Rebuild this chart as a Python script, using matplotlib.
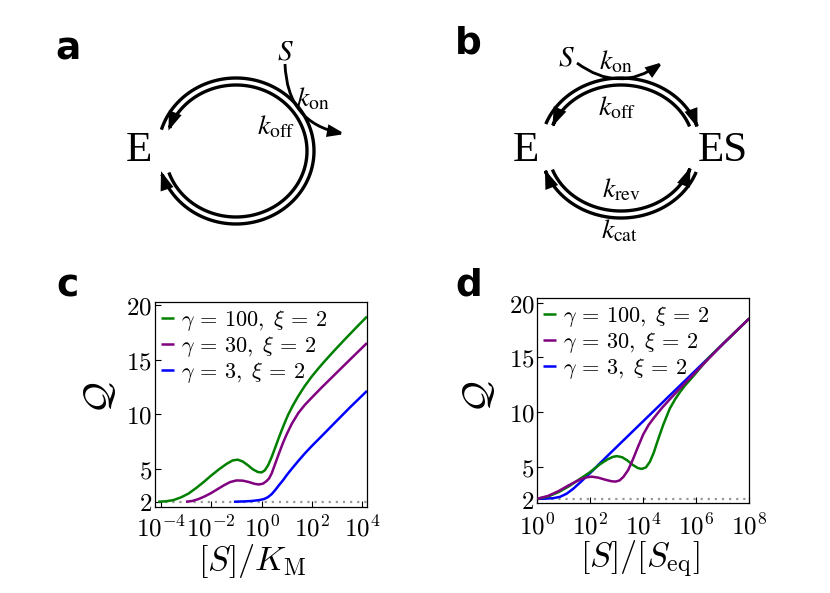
import numpy as np
import matplotlib
matplotlib.use("Agg")
import matplotlib.pyplot as plt
from matplotlib.patches import FancyArrowPatch
from matplotlib.path import Path
from matplotlib.ticker import FixedLocator, FuncFormatter, NullLocator

plt.rcParams['mathtext.fontset'] = 'cm'
plt.rcParams['font.family'] = ['DejaVu Sans']

# ---------------- data ----------------
series_labels = [r'$\gamma\,=\,100,\ \xi\,=\,2$', r'$\gamma\,=\,30,\ \xi\,=\,2$', r'$\gamma\,=\,3,\ \xi\,=\,2$']

# panel c : log10([S]/K_M) and Q
c_logx_g100 = [-4.1, -3.8, -3.5, -3.2, -2.9, -2.6, -2.3, -2.0, -1.7, -1.4, -1.15, -0.95, -0.75, -0.55,
               -0.35, -0.15, 0.0, 0.13, 0.27, 0.4, 0.53, 0.66, 0.79, 0.92, 1.05, 1.25, 1.45, 1.7, 1.98,
               2.25, 2.51, 2.9, 3.3, 3.7, 4.18]
c_Q_g100 = [2.0, 2.04, 2.15, 2.4, 2.75, 3.25, 3.8, 4.4, 4.95, 5.45, 5.78, 5.85, 5.68, 5.35,
            4.97, 4.72, 4.68, 4.88, 5.4, 6.1, 6.9, 7.72, 8.5, 9.25, 9.95, 10.85, 11.65, 12.55, 13.43,
            14.19, 14.88, 15.87, 16.85, 17.81, 18.94]
c_logx_g30 = [-3.0, -2.75, -2.5, -2.25, -2.0, -1.75, -1.5, -1.25, -1.0, -0.75, -0.5, -0.3, -0.12,
              0.05, 0.2, 0.3, 0.4, 0.55, 0.7, 0.85, 1.0, 1.19, 1.45, 1.71, 2.0, 2.38, 2.9, 3.5, 4.18]
c_Q_g30 = [2.0, 2.07, 2.25, 2.5, 2.8, 3.15, 3.5, 3.8, 3.95, 3.93, 3.8, 3.65, 3.58,
           3.65, 3.9, 4.15, 4.6, 5.55, 6.5, 7.4, 8.2, 9.1, 10.1, 10.85, 11.55, 12.45, 13.63, 14.99, 16.52]
c_logx_g3 = [-1.1, -0.7, -0.4, -0.1, 0.1, 0.25, 0.4, 0.55, 0.7, 0.86, 1.0, 1.19, 1.45, 1.71, 2.0,
             2.38, 2.9, 3.5, 4.18]
c_Q_g3 = [2.0, 2.03, 2.07, 2.15, 2.25, 2.42, 2.7, 3.1, 3.55, 4.0, 4.45, 5.0, 5.72, 6.41, 7.12,
          8.0, 9.22, 10.62, 12.14]

# panel d : log10([S]/[S_eq]) and Q
d_logx_g100 = [0.0, 0.4, 0.8, 1.2, 1.6, 2.0, 2.36, 2.65, 2.85, 3.0, 3.2, 3.4, 3.6, 3.8, 3.95, 4.1,
               4.25, 4.4, 4.5, 4.62, 4.75, 5.0, 5.2, 5.38, 5.57, 5.76, 5.95, 6.14, 6.45, 7.0, 8.0]
d_Q_g100 = [2.05, 2.25, 2.65, 3.2, 3.85, 4.5, 5.2, 5.65, 5.88, 5.95, 5.85, 5.55, 5.15, 4.85, 4.78, 4.92,
            5.44, 6.3, 7.05, 7.9, 8.8, 10.3, 11.15, 11.8, 12.4, 12.92, 13.45, 14.0, 14.9, 16.2, 18.55]
d_logx_g30 = [0.0, 0.4, 0.8, 1.2, 1.6, 1.85, 2.05, 2.3, 2.55, 2.8, 2.95, 3.1, 3.25, 3.43, 3.6, 3.8,
              4.0, 4.2, 4.4, 4.7, 5.0, 5.4, 5.9, 6.4, 7.0, 8.0]
d_Q_g30 = [2.05, 2.3, 2.75, 3.3, 3.8, 4.0, 4.07, 3.98, 3.8, 3.65, 3.62, 3.72, 4.05, 4.68, 5.6, 6.8,
           7.95, 8.8, 9.45, 10.35, 11.15, 12.19, 13.45, 14.7, 16.2, 18.55]
d_logx_g3 = [0.0, 0.3, 0.6, 0.85, 1.1, 1.35, 1.6, 1.85, 2.1, 2.4, 2.74, 3.5, 4.5, 5.5, 6.5, 7.25, 8.0]
d_Q_g3 = [2.05, 2.06, 2.1, 2.22, 2.5, 2.95, 3.5, 4.07, 4.65, 5.38, 6.19, 7.98, 10.33, 12.68, 15.03,
          16.79, 18.55]

baseline_Q = 2.0
c_base_logx = [-4.1, 4.18]
d_base_logx = [0.0, 8.0]

yticks = [2, 5, 10, 15, 20]
c_xtick_exp = [-4, -2, 0, 2, 4]
d_xtick_exp = [0, 2, 4, 6, 8]

# ---------------- figure ----------------
W, H = 830, 593
fig = plt.figure(figsize=(W / 100, H / 100), dpi=100)

ax0 = fig.add_axes([0, 0, 1, 1])
ax0.set_xlim(0, W)
ax0.set_ylim(H, 0)
ax0.axis('off')

LW = 2.4
HEAD = '-|>,head_length=9,head_width=3.2'


def arc_pts(cx, cy, rx, ry, t1, t2, n=120):
    t = np.radians(np.linspace(t1, t2, n))
    return np.column_stack([cx + rx * np.cos(t), cy - ry * np.sin(t)])


def arc_arrow(cx, cy, rx, ry, t1, t2):
    pts = arc_pts(cx, cy, rx, ry, t1, t2)
    p = FancyArrowPatch(path=Path(pts), arrowstyle=HEAD, mutation_scale=1,
                        lw=LW, color='black', joinstyle='miter', capstyle='butt')
    ax0.add_patch(p)


def bez_arrow(p0, p1, p2):
    p = FancyArrowPatch(path=Path([p0, p1, p2], [Path.MOVETO, Path.CURVE3, Path.CURVE3]),
                        arrowstyle=HEAD, mutation_scale=1, lw=LW * 0.85, color='black',
                        joinstyle='miter', capstyle='butt')
    ax0.add_patch(p)


stix = dict(math_fontfamily='stix', color='black')
KFS = 20

# ---- panel a ----
acx, acy = 236, 151
arc_arrow(acx, acy, 78, 73, 163, -164)     # outer, clockwise (k_on)
arc_arrow(acx, acy, 71, 66, -161, 162)     # inner, counter-clockwise (k_off)
bez_arrow((285, 64), (287, 123), (345, 134))
ax0.text(139, 151, 'E', family='Liberation Serif', fontsize=31, ha='center', va='center')
ax0.text(285, 51, r'$S$', fontsize=21, ha='center', va='center', **stix)
ax0.text(313, 98, r'$k_{\rm on}$', fontsize=KFS, ha='center', va='center', **stix)
ax0.text(276, 126, r'$k_{\rm off}$', fontsize=KFS, ha='center', va='center', **stix)

# ---- panel b ----
bcx, bcy = 621, 148
arc_arrow(bcx, bcy, 80, 70, 160, 17)       # upper outer: E -> ES (k_on)
arc_arrow(bcx, bcy, 73, 63, 20, 160)       # upper inner: ES -> E (k_off)
arc_arrow(bcx, bcy, 73, 63, -160, -18)     # lower inner: E -> ES (k_rev)
arc_arrow(bcx, bcy, 80, 70, -20, -162)     # lower outer: ES -> E (k_cat)
bez_arrow((577, 63), (619, 94), (663, 62))
ax0.text(526, 151, 'E', family='Liberation Serif', fontsize=31, ha='center', va='center')
ax0.text(723, 151, 'ES', family='Liberation Serif', fontsize=31, ha='center', va='center')
ax0.text(566, 58, r'$S$', fontsize=21, ha='center', va='center', **stix)
ax0.text(616, 61, r'$k_{\rm on}$', fontsize=KFS, ha='center', va='center', **stix)
ax0.text(617, 107, r'$k_{\rm off}$', fontsize=KFS, ha='center', va='center', **stix)
ax0.text(621, 189, r'$k_{\rm rev}$', fontsize=KFS, ha='center', va='center', **stix)
ax0.text(620, 230, r'$k_{\rm cat}$', fontsize=KFS, ha='center', va='center', **stix)

# panel letters
for lab, x, y in [('a', 55, 60), ('b', 455, 53.5), ('c', 56, 296.5), ('d', 455, 295)]:
    ax0.text(x, y, lab, family='DejaVu Sans', fontweight='bold', fontsize=27,
             ha='left', va='baseline')

# ---------------- charts ----------------
axc = fig.add_axes([155 / W, (H - 507) / H, 212 / W, 205 / H])
axd = fig.add_axes([537.3 / W, (H - 503) / H, 212 / W, 205 / H])

colors = ['#008000', '#800080', '#0000ff']
zorders = [3, 4, 2]


def draw(ax, xs, ys, base_x):
    ax.plot(10.0 ** np.array(base_x), [baseline_Q, baseline_Q], ls=(0, (1, 2.2)),
            color='#999999', lw=1.6, zorder=1)
    handles = []
    for x, y, c, z, lab in zip(xs, ys, colors, zorders, series_labels):
        h, = ax.plot(10.0 ** np.array(x), y, color=c, lw=1.8, zorder=z, label=lab,
                     solid_capstyle='butt')
        handles.append(h)
    ax.legend(handles=handles, loc='upper left', frameon=False, fontsize=16,
              handlelength=0.6, handletextpad=0.3, borderaxespad=0.1, borderpad=0.15,
              labelspacing=0.05)


draw(axc, [c_logx_g100, c_logx_g30, c_logx_g3], [c_Q_g100, c_Q_g30, c_Q_g3], c_base_logx)
draw(axd, [d_logx_g100, d_logx_g30, d_logx_g3], [d_Q_g100, d_Q_g30, d_Q_g3], d_base_logx)

for ax, exps, xl, yl, xpad in [(axc, c_xtick_exp, (10 ** -4.23, 10 ** 4.18), (1.52, 20.27), 6),
                               (axd, d_xtick_exp, (1.0, 1e8), (1.66, 20.42), 8)]:
    ax.set_xscale('log')
    ax.set_xlim(*xl)
    ax.set_ylim(*yl)
    ax.xaxis.set_major_locator(FixedLocator([10.0 ** e for e in exps]))
    ax.xaxis.set_minor_locator(NullLocator())
    ax.xaxis.set_major_formatter(FuncFormatter(lambda v, p: r'$10^{%d}$' % round(np.log10(v))))
    ax.yaxis.set_major_locator(FixedLocator(yticks))
    ax.yaxis.set_major_formatter(FuncFormatter(lambda v, p: r'$%d$' % v))
    ax.tick_params(direction='in', length=4, width=0.8, labelsize=18)
    ax.tick_params(axis='y', pad=2)
    ax.tick_params(axis='x', pad=xpad)
    for s in ax.spines.values():
        s.set_linewidth(0.9)

axc.set_xlabel(r'$[S]/K_{\mathrm{M}}$', fontsize=24.5)
axd.set_xlabel(r'$[S]/[S_{\mathrm{eq}}]$', fontsize=24.5)
axc.set_ylabel(r'$\mathcal{Q}$', fontsize=28, rotation=90, ha='center', va='center')
axd.set_ylabel(r'$\mathcal{Q}$', fontsize=28, rotation=90, ha='center', va='center')
axc.xaxis.set_label_coords(0.458, -0.262)
axd.xaxis.set_label_coords(0.484, -0.275)
axc.yaxis.set_label_coords(-0.259, 0.532)
axd.yaxis.set_label_coords(-0.275, 0.517)
for ax in (axc, axd):
    ax.xaxis.label.set_va('center')

fig.savefig('out.png', dpi=100)
